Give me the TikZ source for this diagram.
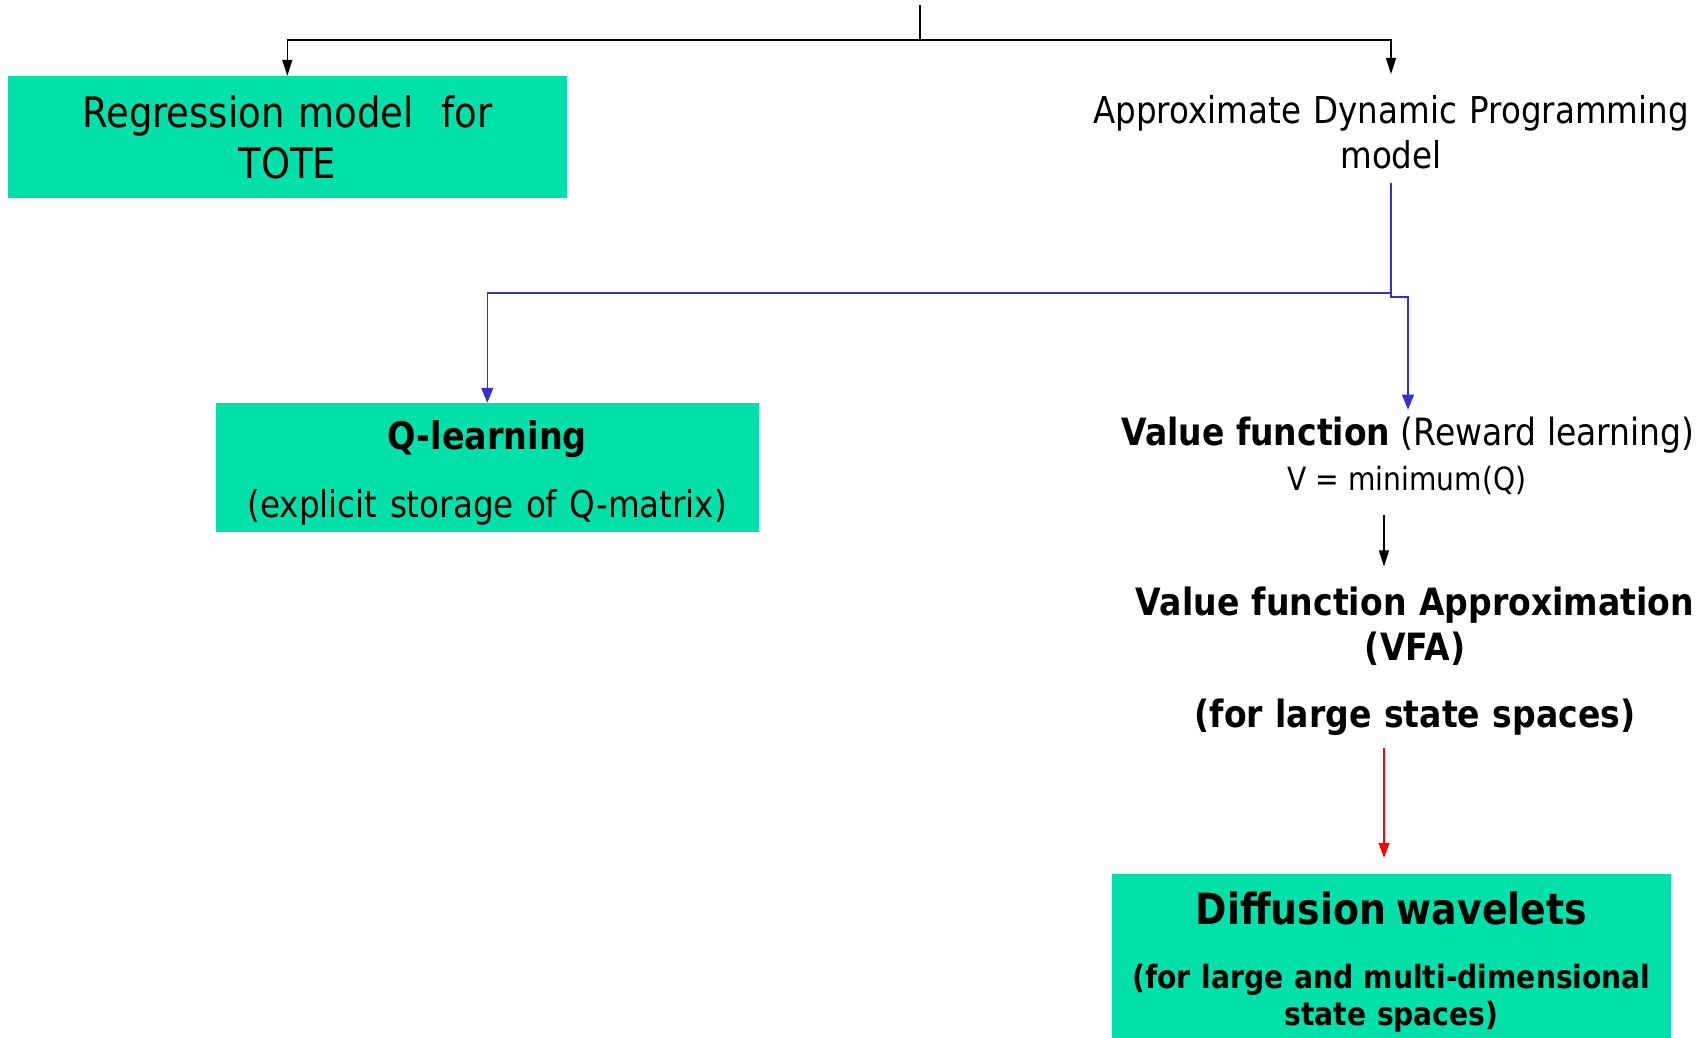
\documentclass[tikz,border=0pt]{standalone}
\usepackage{fontspec}
\setmainfont{DejaVu Sans}[FakeStretch=0.88]
\usetikzlibrary{arrows.meta}
\definecolor{boxgreen}{RGB}{0,224,168}
\definecolor{linkblue}{RGB}{51,51,204}
\begin{document}
\begin{tikzpicture}[x=1pt,y=-1pt,
  box/.style={fill=boxgreen, inner sep=0pt, align=center},
  lbl/.style={inner sep=0pt, align=center},
  wire/.style={line width=1.5pt},
  tipblack/.style={-{Triangle[length=16pt,width=10pt]}, line width=1.5pt, black},
  tipblue/.style={-{Triangle[length=15pt,width=12pt]}, line width=1.5pt, linkblue},
  tipred/.style={-{Triangle[length=15pt,width=11pt]}, line width=1.2pt, red},
]
\useasboundingbox (0,0) rectangle (1707,1038);

% helper points for the top fork and the right-hand arrow axis
\coordinate (root) at (920,5);
\coordinate (fork) at (920,40);
\coordinate (axis) at (1384,0);
\coordinate (bend) at (1391,293);

% boxes
\node[box, minimum width=559pt, minimum height=122pt, text width=540pt,
      font=\fontsize{42}{51}\selectfont] (reg) at (287.3,137)
  {Regression model~~for\\TOTE};

\node[box, minimum width=543pt, minimum height=129pt, text width=530pt,
      font=\fontsize{37}{45}\selectfont] (q) at (487.3,467.5) {};
\node[lbl, text width=530pt, font=\fontsize{37}{45}\selectfont] (qtext) at (487.3,472.5)
  {{\fontsize{38}{45}\selectfont\bfseries Q-learning\par}\vspace{23pt}%
   (explicit storage of Q-matrix)};

\node[box, minimum width=559pt, minimum height=164pt] (dw) at (1391.5,956) {};
\node[lbl, text width=550pt, font=\fontsize{32}{37}\selectfont\bfseries] (dwtext) at (1391.5,962)
  {{\fontsize{43}{50}\selectfont Diffusion wavelets\par}\vspace{27pt}%
   (for large and multi-dimensional\\ state spaces)};

% free-standing labels
\node[lbl, text width=620pt, font=\fontsize{37}{45}\selectfont] (adp) at (1391,132)
  {Approximate Dynamic Programming\\ model};

\node[lbl, font=\fontsize{37.5}{45}\selectfont] (vf1) at (1408,435)
  {{\bfseries Value function} (Reward learning)};

\node[lbl, font=\fontsize{32}{38}\selectfont] (vf2) at (1407,480)
  {V = minimum(Q)};

\node[lbl, text width=620pt, font=\fontsize{37.6}{45}\selectfont\bfseries] (vfa) at (1415,661)
  {Value function Approximation\\ (VFA)\par\vspace{22pt}%
   (for large state spaces)};

% top fork
\draw[wire] (root) -- (fork);
\draw[tipblack] (fork) -| (reg.north);
\draw[tipblack] (fork) -| ([yshift=21pt]adp.north);

% blue split below the dynamic programming model
\draw[wire, linkblue] ([yshift=-14pt]adp.south) -- (bend);
\draw[tipblue] (bend) -| (q.north);
\draw[tipblue] (bend) -- ++(0,4) -| ([yshift=7pt]vf1.north);

% chain on the right
\draw[tipblack] ([yshift=-21pt]vf2.south -| axis) -- ([yshift=20pt]vfa.north -| axis);
\draw[tipred] ([yshift=-12pt]vfa.south -| axis) -- ([yshift=16pt]dw.north -| axis);
\end{tikzpicture}
\end{document}
